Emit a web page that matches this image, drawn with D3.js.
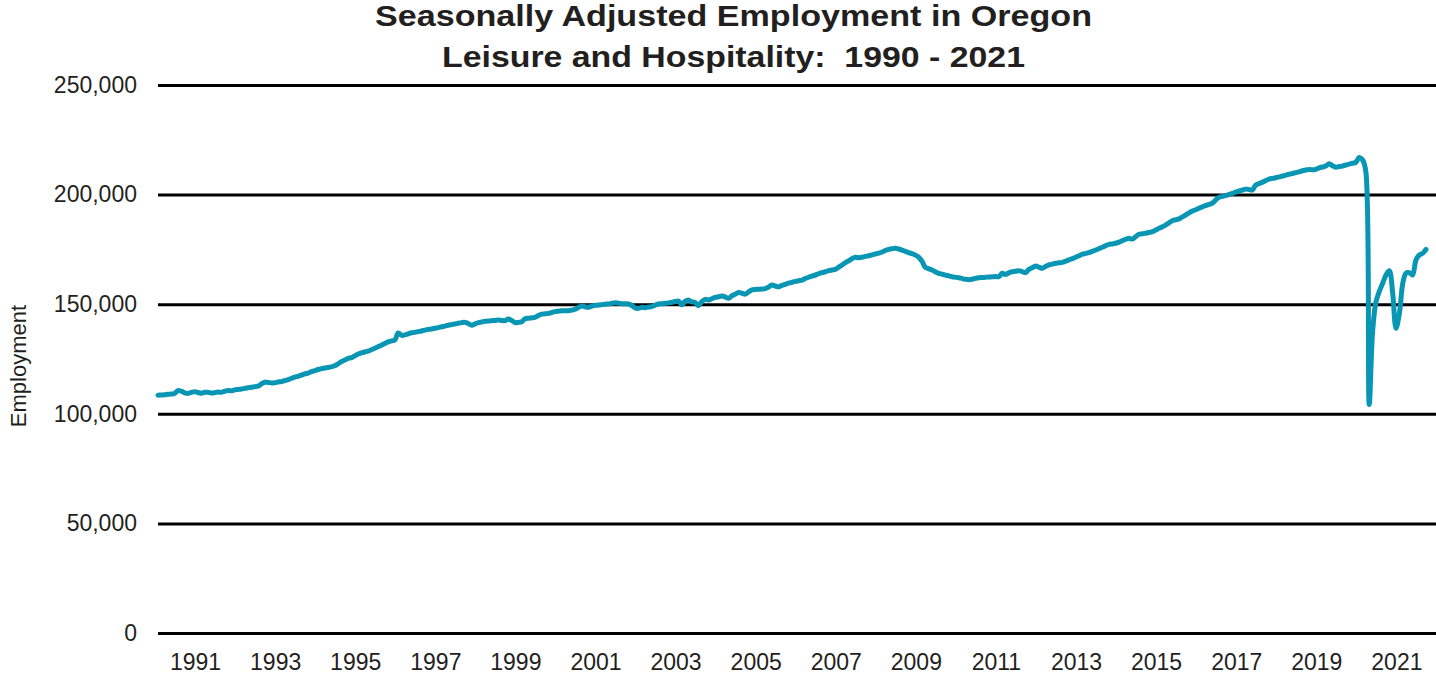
<!DOCTYPE html>
<html>
<head>
<meta charset="utf-8">
<script src="https://cdn.jsdelivr.net/npm/d3@7"></script>
<style>
  body { margin: 0; background: #fff; }
  svg { display: block; font-family: "Liberation Sans", Arial, sans-serif; }
</style>
</head>
<body>
<svg></svg>
<script>
// monthly values, thousands, Jan 1990 - Sep 2021 (one row per year)
let employment = [
  108.5, 108.6, 108.7, 108.9, 109.0, 109.3, 110.6, 110.3, 109.6, 109.3, 109.8, 110.1,
  109.7, 109.4, 109.8, 109.8, 109.5, 109.6, 109.9, 109.8, 110.3, 110.6, 110.5, 110.9,
  111.1, 111.3, 111.6, 111.9, 112.1, 112.4, 112.6, 113.6, 114.4, 114.3, 114.1, 114.2,
  114.5, 114.7, 115.1, 115.6, 116.1, 116.7, 117.1, 117.6, 118.2, 118.6, 119.2, 119.7,
  120.2, 120.6, 120.9, 121.1, 121.4, 121.9, 122.8, 123.8, 124.5, 125.3, 125.6, 126.4,
  127.3, 127.8, 128.2, 128.6, 129.2, 129.9, 130.6, 131.3, 132.1, 132.8, 133.3, 133.6,
  136.9, 135.8, 136.0, 136.5, 137.0, 137.2, 137.5, 137.8, 138.2, 138.5, 138.7, 139.0,
  139.3, 139.7, 140.0, 140.4, 140.7, 141.0, 141.3, 141.6, 141.7, 141.2, 140.4, 141.0,
  141.6, 141.9, 142.2, 142.3, 142.5, 142.6, 142.8, 142.6, 142.5, 143.2, 142.6, 141.6,
  141.7, 142.0, 143.3, 143.6, 143.8, 144.0, 144.8, 145.5, 145.6, 145.8, 146.2, 146.6,
  146.8, 147.0, 147.0, 147.0, 147.3, 147.7, 148.5, 149.2, 148.8, 148.6, 149.1, 149.5,
  149.6, 149.8, 150.0, 150.1, 150.4, 150.7, 150.5, 150.2, 150.2, 150.1, 149.4, 148.3,
  148.1, 148.6, 148.4, 148.7, 148.9, 149.5, 150.1, 150.2, 150.4, 150.6, 150.9, 151.2,
  151.4, 149.7, 151.3, 151.9, 151.1, 150.8, 149.3, 151.2, 152.2, 151.9, 152.5, 153.1,
  153.4, 153.7, 153.3, 152.7, 153.8, 154.6, 155.3, 155.0, 154.6, 155.6, 156.5, 156.7,
  156.8, 156.9, 157.1, 157.8, 158.8, 158.3, 158.0, 158.6, 159.1, 159.6, 160.0, 160.4,
  160.7, 161.0, 161.7, 162.3, 162.8, 163.3, 163.9, 164.4, 164.8, 165.3, 165.6, 165.9,
  166.9, 167.9, 168.9, 169.8, 170.7, 171.4, 171.2, 171.4, 171.8, 172.1, 172.5, 172.9,
  173.3, 173.8, 174.5, 175.0, 175.3, 175.5, 175.2, 174.7, 174.1, 173.5, 173.0, 172.4,
  171.4, 169.4, 166.8, 166.2, 165.6, 164.8, 164.1, 163.7, 163.3, 162.9, 162.5, 162.3,
  162.1, 161.7, 161.4, 161.2, 161.4, 161.8, 162.1, 162.2, 162.3, 162.4, 162.5, 162.6,
  162.6, 164.1, 163.6, 164.3, 164.8, 165.0, 165.3, 164.9, 164.4, 165.9, 166.6, 167.4,
  166.9, 166.4, 167.2, 167.9, 168.3, 168.7, 168.9, 169.1, 169.6, 170.2, 170.8, 171.4,
  172.1, 172.8, 173.1, 173.5, 174.1, 174.7, 175.3, 176.0, 176.7, 177.3, 177.5, 177.8,
  178.3, 179.0, 179.6, 180.1, 179.7, 180.8, 181.9, 182.1, 182.4, 182.7, 183.1, 183.8,
  184.6, 185.3, 186.1, 187.1, 188.1, 188.5, 188.9, 189.8, 190.7, 191.6, 192.5, 193.1,
  193.8, 194.4, 195.0, 195.5, 196.1, 197.6, 198.8, 199.2, 199.6, 200.1, 200.6, 201.1,
  201.7, 202.1, 202.5, 202.3, 202.1, 204.4, 205.0, 205.6, 206.4, 207.1, 207.4, 207.7,
  208.1, 208.5, 208.9, 209.3, 209.6, 210.0, 210.4, 210.9, 211.2, 211.5, 211.3, 211.5,
  212.2, 212.6, 213.0, 214.1, 213.2, 212.5, 212.8, 213.0, 213.5, 213.9, 214.3, 214.7,
  216.9, 215.8, 210.5, 104.2, 137.0, 151.0, 155.7, 159.5, 163.3, 165.3, 155.0, 139.0,
  145.8, 159.5, 164.1, 164.4, 163.3, 170.2, 172.4, 173.2, 175.0
]

let firstYear = 1990
let lastYear = 2021
let xTickYears = [1991, 1993, 1995, 1997, 1999, 2001, 2003, 2005, 2007, 2009,
                  2011, 2013, 2015, 2017, 2019, 2021]
let yTicks = [0, 50000, 100000, 150000, 200000, 250000]

let titleLines = ["Seasonally Adjusted Employment in Oregon",
                  "Leisure and Hospitality:  1990 - 2021"]
let yTitle = "Employment"

let width = 1436
let height = 674
let plotLeft = 158
let plotRight = 1436
let plotTop = 85
let plotBottom = 633
let textColor = "#231f20"
let lineColor = "#0896b4"

let svg = d3.select("svg")
let data
let xScale
let yScale

// function: drawCanvas
let drawCanvas = () => {
  svg.attr("width", width).attr("height", height)
}

// function: genScales
let genScales = () => {
  data = employment.map((v, i) => ({ date: new Date(firstYear, i, 1), value: v * 1000 }))

  xScale = d3.scaleTime()
    .domain([new Date(firstYear, 0, 1), new Date(lastYear, 11, 1)])
    .range([plotLeft, plotRight])

  yScale = d3.scaleLinear()
    .domain([0, 250000])
    .range([plotBottom, plotTop])
}

// function: drawAxes
let drawAxes = () => {
  let yAxis = d3.axisLeft(yScale)
    .tickValues(yTicks)
    .tickSize(-(plotRight - plotLeft))
    .tickPadding(21)
    .tickFormat(d3.format(","))

  let yg = svg.append("g")
    .attr("id", "y-axis")
    .attr("transform", "translate(" + plotLeft + ",0)")
    .call(yAxis)
  yg.select(".domain").remove()
  yg.selectAll("line").attr("stroke", "#000").attr("stroke-width", 3)
  yg.selectAll("text")
    .attr("fill", textColor)
    .style("font-size", "23px")

  let xAxis = d3.axisBottom(xScale)
    .tickValues(xTickYears.map((y) => new Date(y, 0, 1)))
    .tickSize(0)
    .tickPadding(21)
    .tickFormat(d3.timeFormat("%Y"))

  let xg = svg.append("g")
    .attr("id", "x-axis")
    .attr("transform", "translate(0," + plotBottom + ")")
    .call(xAxis)
  xg.select(".domain").remove()
  xg.selectAll("text")
    .attr("fill", textColor)
    .attr("dx", -3)
    .style("font-size", "23px")
}

// function: drawLine
let drawLine = () => {
  let line = d3.line()
    .x((d) => xScale(d.date))
    .y((d) => yScale(d.value))
    .curve(d3.curveCatmullRom)

  svg.append("path")
    .datum(data)
    .attr("fill", "none")
    .attr("stroke", lineColor)
    .attr("stroke-width", 5)
    .attr("stroke-linejoin", "round")
    .attr("stroke-linecap", "round")
    .attr("d", line)
}

// function: drawTitles
let drawTitles = () => {
  let lens = [717, 583]
  let baselines = [26, 67]
  titleLines.forEach((t, i) => {
    svg.append("text")
      .attr("x", 733.5)
      .attr("y", baselines[i])
      .attr("text-anchor", "middle")
      .attr("textLength", lens[i])
      .attr("lengthAdjust", "spacingAndGlyphs")
      .style("white-space", "pre")
      .style("font-size", "29px")
      .style("font-weight", "bold")
      .attr("fill", textColor)
      .text(t)
  })

  svg.append("text")
    .attr("transform", "translate(26,366) rotate(-90)")
    .attr("text-anchor", "middle")
    .style("font-size", "22px")
    .attr("fill", textColor)
    .text(yTitle)
}

drawCanvas()
genScales()
drawAxes()
drawLine()
drawTitles()
</script>
</body>
</html>
